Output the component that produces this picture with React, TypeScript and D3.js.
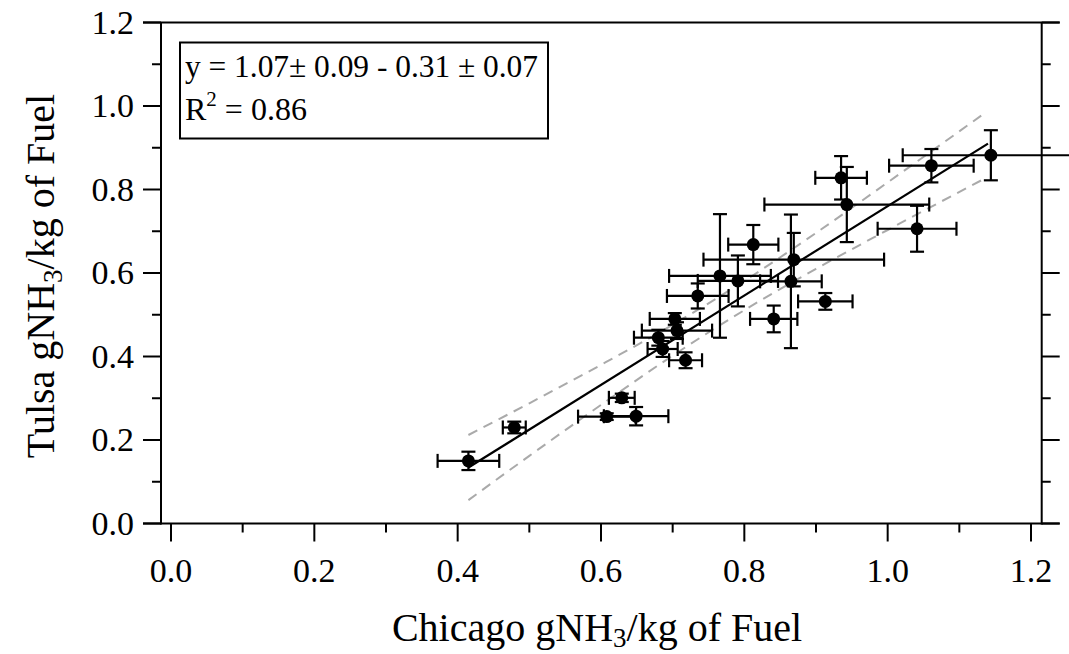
import React from "react";
import * as d3 from "d3";

// Chicago vs Tulsa emission factors (g NH3 / kg fuel)
const chicago = [0.415, 0.479, 0.608, 0.649, 0.629, 0.718, 0.686, 0.68, 0.706, 0.703, 0.735, 0.766, 0.791, 0.8125, 0.869, 0.865, 0.913, 0.841, 0.935, 0.943, 1.041, 1.061, 1.144];
const tulsa = [0.15, 0.23, 0.256, 0.257, 0.301, 0.391, 0.418, 0.445, 0.462, 0.49, 0.545, 0.593, 0.581, 0.668, 0.632, 0.58, 0.532, 0.49, 0.828, 0.764, 0.706, 0.857, 0.882];
const chicagoErr = [0.043, 0.016, 0.04, 0.045, 0.018, 0.023, 0.021, 0.034, 0.049, 0.035, 0.043, 0.071, 0.056, 0.035, 0.126, 0.043, 0.038, 0.033, 0.036, 0.115, 0.055, 0.059, 0.123];
const tulsaErr = [0.022, 0.014, 0.008, 0.022, 0.01, 0.019, 0.019, 0.019, 0.02, 0.014, 0.03, 0.148, 0.061, 0.047, 0.064, 0.16, 0.02, 0.032, 0.052, 0.09, 0.055, 0.04, 0.06];

// fit line y = 1.07x - 0.31 and its confidence band
const fitX = [0.415, 1.14];
const fitY = [0.134, 0.91];
const bandX = [0.415, 0.5, 0.6, 0.7, 0.8, 0.9, 1.0, 1.133];
const bandUpper = [0.212, 0.288, 0.38, 0.476, 0.581, 0.696, 0.817, 0.98];
const bandLower = [0.056, 0.162, 0.284, 0.402, 0.511, 0.61, 0.703, 0.824];

const xTicks = [0, 0.2, 0.4, 0.6, 0.8, 1.0, 1.2];
const xMinor = [0.1, 0.3, 0.5, 0.7, 0.9, 1.1];
const yTicks = [0, 0.2, 0.4, 0.6, 0.8, 1.0, 1.2];
const yMinor = [0.1, 0.3, 0.5, 0.7, 0.9, 1.1];

const W = 1069, H = 654;
const font = "'Liberation Serif', 'Times New Roman', serif";

export default function App() {
    const left = 161, right = 1041.7, top = 22.5, bottom = 523.5;
    const x = d3.scaleLinear().domain([0, 1.2]).range([171, 1031]);
    const y = d3.scaleLinear().domain([0, 1.2]).range([bottom, top]);

    const line = d3.line<[number, number]>().x(d => x(d[0])).y(d => y(d[1]));
    const fitPts = fitX.map((v, i) => [v, fitY[i]] as [number, number]);
    const upPts = bandX.map((v, i) => [v, bandUpper[i]] as [number, number]);
    const loPts = bandX.map((v, i) => [v, bandLower[i]] as [number, number]);
    const curve = d3.line<[number, number]>().x(d => x(d[0])).y(d => y(d[1])).curve(d3.curveMonotoneX);

    const cap = 7;
    const major = 18, minor = 9;

    return (
        <svg width={W} height={H} style={{ position: "absolute", left: 0, top: 0, background: "#fff" }} fontFamily={font}>
            {/* frame */}
            <g stroke="#000" strokeWidth={2} fill="none">
                <line x1={left - major} x2={right + major} y1={top} y2={top} />
                <line x1={left - major} x2={right + major} y1={bottom} y2={bottom} />
                <line x1={left} x2={left} y1={top} y2={bottom + 1} />
                <line x1={right} x2={right} y1={top} y2={bottom + 1} />
                {xTicks.map(t => <line key={"xm" + t} x1={x(t)} x2={x(t)} y1={bottom} y2={bottom + major} />)}
                {xMinor.map(t => <line key={"xn" + t} x1={x(t)} x2={x(t)} y1={bottom} y2={bottom + minor} />)}
                {yTicks.map(t => <line key={"yl" + t} x1={left - major} x2={left} y1={y(t)} y2={y(t)} />)}
                {yMinor.map(t => <line key={"yln" + t} x1={left - minor} x2={left} y1={y(t)} y2={y(t)} />)}
                {yTicks.map(t => <line key={"yr" + t} x1={right} x2={right + major} y1={y(t)} y2={y(t)} />)}
                {yMinor.map(t => <line key={"yrn" + t} x1={right} x2={right + minor} y1={y(t)} y2={y(t)} />)}
            </g>

            {xTicks.map(t => (
                <text key={"xl" + t} x={x(t)} y={582} textAnchor="middle" fontSize={34}>{d3.format(".1f")(t)}</text>
            ))}
            {yTicks.map(t => (
                <text key={"ylb" + t} x={134} y={y(t) + 11} textAnchor="end" fontSize={34}>{d3.format(".1f")(t)}</text>
            ))}

            {/* axis titles */}
            <text x={597} y={641} textAnchor="middle" fontSize={40}>
                Chicago gNH<tspan fontSize={27} dy={6}>3</tspan><tspan dy={-6}>/kg of Fuel</tspan>
            </text>
            <text transform="translate(54,276) rotate(-90)" textAnchor="middle" fontSize={40}>
                Tulsa gNH<tspan fontSize={27} dy={8}>3</tspan><tspan dy={-8}>/kg of Fuel</tspan>
            </text>

            {/* confidence band */}
            <g fill="none" stroke="#aaa" strokeWidth={2} strokeDasharray="10,7">
                <path d={curve(upPts) || ""} />
                <path d={curve(loPts) || ""} />
            </g>

            {/* error bars */}
            <g stroke="#000" strokeWidth={2.2}>
                {chicago.map((cx, i) => {
                    const px = x(cx), py = y(tulsa[i]);
                    const x0 = x(cx - chicagoErr[i]), x1 = x(cx + chicagoErr[i]);
                    const y0 = y(tulsa[i] - tulsaErr[i]), y1 = y(tulsa[i] + tulsaErr[i]);
                    return (
                        <g key={"e" + i}>
                            <line x1={x0} x2={x1} y1={py} y2={py} />
                            <line x1={x0} x2={x0} y1={py - cap} y2={py + cap} />
                            <line x1={x1} x2={x1} y1={py - cap} y2={py + cap} />
                            <line x1={px} x2={px} y1={y0} y2={y1} />
                            <line x1={px - cap} x2={px + cap} y1={y0} y2={y0} />
                            <line x1={px - cap} x2={px + cap} y1={y1} y2={y1} />
                        </g>
                    );
                })}
            </g>

            {/* fit line */}
            <path d={line(fitPts) || ""} fill="none" stroke="#000" strokeWidth={2.2} />

            {/* points */}
            {chicago.map((cx, i) => (
                <circle key={"p" + i} cx={x(cx)} cy={y(tulsa[i])} r={6.5} fill="#000" />
            ))}

            {/* fit legend */}
            <rect x={180} y={42.5} width={368} height={96} fill="#fff" stroke="#000" strokeWidth={2} />
            <text x={185} y={77} fontSize={32} textLength={353} lengthAdjust="spacingAndGlyphs">y = 1.07± 0.09 - 0.31 ± 0.07</text>
            <text x={185} y={120} fontSize={32}>
                R<tspan fontSize={21} dy={-14}>2</tspan><tspan dy={14}> = 0.86</tspan>
            </text>
        </svg>
    );
}
